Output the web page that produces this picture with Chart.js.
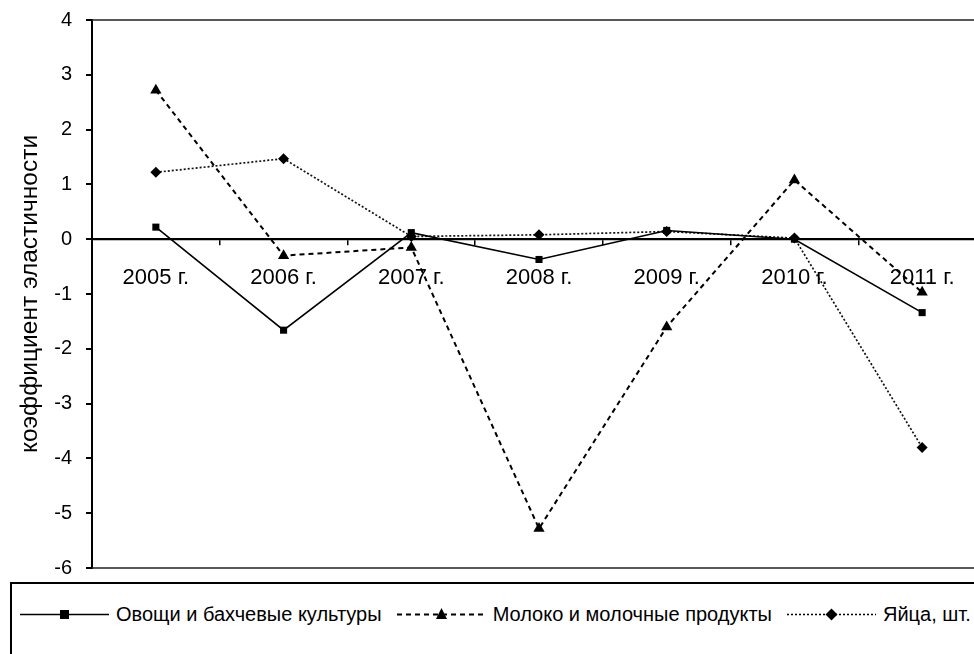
<!DOCTYPE html>
<html>
<head>
<meta charset="utf-8">
<script src="https://cdn.jsdelivr.net/npm/chart.js@4/dist/chart.umd.min.js"></script>
<style>
  html, body { margin: 0; padding: 0; background: #fff; overflow: hidden; width: 974px; height: 654px; }
  #wrap { position: absolute; left: 0; top: -6px; width: 1000px; height: 600px; }
  #legend { position: absolute; left: 10px; top: 582px; width: 1000px; height: 100px; background: #fff;
            border: 2px solid #000; border-right: none; box-sizing: border-box;
            font-family: "Liberation Sans", Arial, sans-serif; font-size: 20px; color: #000; }
  #legend .row { position: absolute; top: 19px; left: 8px; display: flex; align-items: center; white-space: nowrap; }
  #legend .item { display: flex; align-items: center; margin-right: 15px; }
  #legend svg { margin-right: 7px; }
</style>
</head>
<body>
<div id="wrap"><canvas id="c" width="1000" height="600"></canvas></div>
<div id="legend"><div class="row" id="legendRow"></div></div>
<script>
// ---- data ----
const categories = ["2005 г.", "2006 г.", "2007 г.", "2008 г.", "2009 г.", "2010 г.", "2011 г."];
const vegetables = [0.22, -1.66, 0.12, -0.37, 0.16, 0.0, -1.34];
const milk = [2.72, -0.30, -0.15, -5.28, -1.60, 1.08, -0.97];
const eggs = [1.22, 1.47, 0.05, 0.08, 0.14, 0.02, -3.80];
const seriesNames = ["Овощи и бахчевые культуры", "Молоко и молочные продукты", "Яйца, шт."];
const yTicks = [4, 3, 2, 1, 0, -1, -2, -3, -4, -5, -6];
const yTitle = "коэффициент эластичности";

const FONT = "'Liberation Sans', Arial, sans-serif";

const framePlugin = {
  id: 'frame',
  beforeDatasetsDraw(chart) {
    const a = chart.chartArea, ctx = chart.ctx;
    ctx.save();
    ctx.strokeStyle = '#222';
    ctx.lineWidth = 1.5;
    ctx.beginPath();
    ctx.moveTo(a.left, a.top); ctx.lineTo(a.right, a.top);
    ctx.moveTo(a.left, a.bottom); ctx.lineTo(a.right, a.bottom);
    ctx.stroke();
    ctx.restore();
  }
};

new Chart(document.getElementById('c'), {
  type: 'line',
  data: {
    labels: categories,
    datasets: [
      { label: seriesNames[0], data: vegetables, borderColor: '#000', backgroundColor: '#000',
        borderWidth: 1.6, pointStyle: 'rect', pointRadius: 5, pointBorderWidth: 0, order: 1 },
      { label: seriesNames[1], data: milk, borderColor: '#000', backgroundColor: '#000',
        borderWidth: 2, borderDash: [5, 4], pointStyle: 'triangle', pointRadius: 6.5, pointBorderWidth: 0, order: 2 },
      { label: seriesNames[2], data: eggs, borderColor: '#111', backgroundColor: '#000',
        borderWidth: 1.7, borderDash: [2, 2], pointStyle: 'rectRot', pointRadius: 5.5, pointBorderWidth: 0, order: 3 }
    ]
  },
  options: {
    responsive: false,
    animation: false,
    layout: { padding: { top: 15, bottom: 13, left: 0, right: 14 } },
    plugins: { legend: { display: false }, tooltip: { enabled: false } },
    elements: { line: { tension: 0, fill: false } },
    scales: {
      x: {
        type: 'category',
        position: { y: 0 },
        offset: true,
        grid: { display: true, drawOnChartArea: false, drawTicks: true, tickLength: 5, color: '#000', lineWidth: 1.5, offset: true },
        border: { display: true, color: '#000', width: 2.2 },
        ticks: { color: '#000', font: { family: FONT, size: 22 }, padding: 21, maxRotation: 0 }
      },
      y: {
        min: -6, max: 4,
        afterFit(scale) { scale.width = 92; },
        afterBuildTicks(scale) { scale.ticks = yTicks.map(v => ({ value: v })); },
        grid: { display: true, drawOnChartArea: false, drawTicks: true, tickLength: 6, color: '#000', lineWidth: 2 },
        border: { display: true, color: '#000', width: 2 },
        ticks: { color: '#000', font: { family: FONT, size: 20 }, padding: 14 },
        title: { display: true, text: yTitle, color: '#000', font: { family: FONT, size: 24.5 }, padding: { top: 16, bottom: 0 } }
      }
    }
  },
  plugins: [framePlugin]
});

// ---- HTML legend ----
const legendStyles = [
  { dash: '', marker: 'rect', width: 1.6 },
  { dash: '5,4', marker: 'triangle', width: 2 },
  { dash: '2,2', marker: 'diamond', width: 1.6 }
];
const row = document.getElementById('legendRow');
seriesNames.forEach((name, i) => {
  const s = legendStyles[i];
  let mk = '';
  if (s.marker === 'rect') mk = '<rect x="40" y="6" width="9" height="9" fill="#000"/>';
  if (s.marker === 'triangle') mk = '<polygon points="44.5,4 50,15 39,15" fill="#000"/>';
  if (s.marker === 'diamond') mk = '<polygon points="44.5,4.5 50.5,10.5 44.5,16.5 38.5,10.5" fill="#000"/>';
  const item = document.createElement('div');
  item.className = 'item';
  item.innerHTML = '<svg width="89" height="21"><line x1="0" y1="10.5" x2="89" y2="10.5" stroke="#000" stroke-width="' + s.width + '"' +
    (s.dash ? ' stroke-dasharray="' + s.dash + '"' : '') + '/>' + mk + '</svg><span>' + name + '</span>';
  row.appendChild(item);
});
</script>
</body>
</html>
